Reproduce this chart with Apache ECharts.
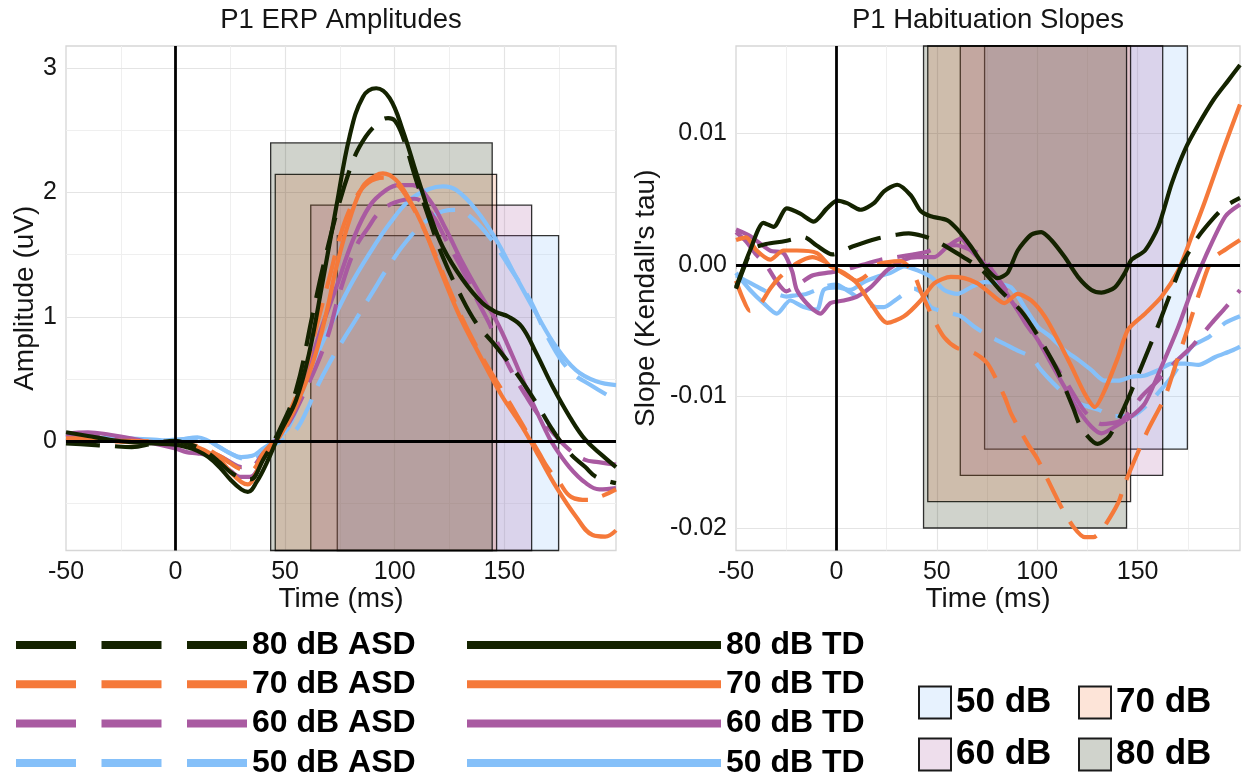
<!DOCTYPE html>
<html><head><meta charset="utf-8">
<script src="https://cdn.jsdelivr.net/npm/echarts@6/dist/echarts.min.js"></script>
<style>html,body{margin:0;padding:0;background:#fff}#chart{width:1248px;height:775px}</style>
</head><body><div id="chart"></div>
<script>
const FONT = '"Liberation Sans", Arial, Helvetica, sans-serif';

// ---------- categories ----------
const levels = ['80 dB', '70 dB', '60 dB', '50 dB'];
const asdNames = ['80 dB ASD', '70 dB ASD', '60 dB ASD', '50 dB ASD'];
const tdNames = ['80 dB TD', '70 dB TD', '60 dB TD', '50 dB TD'];
const levelColors = ['#142300', '#F5793A', '#A95AA1', '#85C0F9'];
const levelFills = ['rgba(20,35,0,0.2)', 'rgba(245,121,58,0.2)', 'rgba(169,90,161,0.2)', 'rgba(133,192,249,0.2)'];

// ---------- axes / ticks ----------
const timeMin = -50, timeMax = 201;
const ampMin = -0.882, ampMax = 3.18;
const slopeMin = -0.02171, slopeMax = 0.01665;
const timeTicks = [-50, 0, 50, 100, 150];
const timeMajorGrid = [0, 50, 100, 150];
const timeMinorGrid = [-25, 25, 75, 125, 175];
const ampTicks = [0, 1, 2, 3];
const ampMinorGrid = [-0.5, 0.5, 1.5, 2.5];
const slopeTicks = [-0.02, -0.01, 0, 0.01];
const slopeMinorGrid = [-0.015, -0.005, 0.005, 0.015];

// ---------- analysis windows (per level: 80,70,60,50) ----------
const windowStart = [43.4, 45.5, 61.7, 73.8];
const windowEnd = [144.5, 146.5, 162.5, 174.8];
const ampWindowTop = [2.40, 2.147, 1.898, 1.653];
const slopeWindowBottom = [-0.020, -0.018, -0.016, -0.014];

// ---------- P1 ERP amplitudes [time ms, uV] ----------
const ampASD80 = [[-50,-0.02],[-40,-0.03],[-30,-0.04],[-20,-0.05],[-10,-0.02],[0,0.0],[5,-0.02],[10,-0.05],[15,-0.1],[20,-0.17],[25,-0.25],[30,-0.3],[34,-0.31],[40,-0.15],[47.5,0.09],[55,0.41],[62.7,1.03],[67.3,1.40],[73.4,1.83],[79.4,2.18],[84,2.37],[90,2.52],[97,2.60],[100,2.58],[103.7,2.45],[109.8,2.10],[115.9,1.78],[122,1.48],[129.6,1.19],[137.2,0.95],[146.3,0.76],[155.4,0.55],[164.5,0.31],[172,0.09],[180,-0.10],[187,-0.21],[192,-0.29],[201,-0.34]];
const ampTD80 = [[-50,0.07],[-40,0.04],[-30,0.01],[-20,-0.01],[-10,-0.02],[0,-0.03],[5,-0.05],[10,-0.08],[15,-0.13],[20,-0.21],[25,-0.31],[30,-0.39],[33,-0.41],[37,-0.33],[41.5,-0.18],[47.5,0.06],[55,0.33],[61,0.71],[67.3,1.30],[73.4,1.89],[79.4,2.45],[85.5,2.77],[91.6,2.84],[97.7,2.76],[103.7,2.50],[109.8,2.16],[115.9,1.83],[122,1.56],[131,1.30],[140,1.11],[146,1.04],[152,1.00],[158,0.92],[164.5,0.71],[172,0.44],[180,0.19],[187,0.01],[195,-0.12],[201,-0.21]];
const ampASD70 = [[-50,0.02],[-40,0.02],[-30,0.0],[-20,-0.01],[-10,0.0],[0,-0.02],[10,-0.04],[20,-0.12],[25,-0.18],[30,-0.23],[34,-0.24],[40,-0.1],[47.5,0.07],[58,0.5],[64,0.9],[70,1.3],[76,1.7],[82,1.95],[88,2.08],[95,2.12],[101,2.07],[107,1.92],[113,1.72],[119,1.48],[125,1.22],[131,0.98],[137,0.77],[143,0.58],[150,0.38],[156,0.2],[161,0.05],[166,-0.1],[170,-0.22],[175,-0.33],[180.5,-0.45],[188,-0.475],[195,-0.44],[201,-0.39]];
const ampTD70 = [[-50,0.0],[-40,0.01],[-30,0.0],[-20,0.0],[-10,-0.01],[0,-0.02],[10,-0.05],[20,-0.15],[25,-0.25],[30,-0.33],[33,-0.35],[37,-0.25],[42,-0.08],[47.5,0.035],[55,0.28],[62.7,0.63],[68.8,1.03],[73.4,1.40],[79.4,1.78],[85.5,2.05],[91.6,2.14],[94.6,2.155],[100.7,2.10],[106.8,1.94],[112.9,1.73],[119,1.46],[125.1,1.19],[131.1,0.95],[137,0.75],[143,0.55],[149,0.36],[155,0.2],[158,0.12],[162,0.0],[166,-0.13],[173.7,-0.37],[182.8,-0.61],[190.3,-0.757],[196,-0.77],[201,-0.72]];
const ampASD60 = [[-50,0.03],[-40,0.05],[-30,0.03],[-20,0.0],[-10,-0.02],[0,-0.03],[10,-0.06],[20,-0.12],[25,-0.17],[30,-0.21],[34,-0.21],[40,-0.1],[50,0.1],[58,0.36],[68.8,0.81],[75,1.2],[82,1.55],[88,1.72],[93,1.84],[100,1.92],[109,1.95],[116,1.85],[124,1.6],[132.6,1.32],[138,1.12],[143,0.95],[148,0.75],[154,0.54],[160,0.36],[166,0.2],[172,0.07],[179,-0.06],[186.6,-0.15],[193,-0.17],[201,-0.19]];
const ampTD60 = [[-50,0.06],[-40,0.07],[-30,0.05],[-20,0.02],[-10,-0.02],[0,-0.06],[5,-0.09],[10,-0.1],[15,-0.12],[20,-0.17],[25,-0.24],[30,-0.29],[34,-0.29],[40,-0.14],[48.9,0.09],[58,0.44],[65.8,0.87],[73.4,1.24],[81,1.62],[88.5,1.89],[96.1,2.02],[102,2.06],[108.2,2.06],[115.9,1.94],[123.5,1.70],[131.1,1.43],[138.7,1.19],[146.3,0.97],[153.9,0.68],[161.6,0.36],[169,0.08],[172,-0.02],[179.7,-0.21],[187.3,-0.34],[193.4,-0.39],[201,-0.38]];
const ampASD50 = [[-50,0.0],[-40,0.01],[-30,0.02],[-20,0.01],[-10,0.0],[0,0.01],[10,0.02],[15,0.0],[20,-0.05],[25,-0.1],[30,-0.14],[35,-0.15],[40,-0.1],[45,-0.03],[50,0.02],[55,0.09],[60,0.25],[65,0.45],[70,0.62],[76,0.8],[82,0.97],[90,1.2],[97,1.4],[105,1.6],[115,1.78],[122,1.85],[128,1.86],[134.2,1.81],[143.3,1.64],[152.4,1.40],[161.6,1.14],[170.6,0.81],[179.7,0.57],[190.3,0.44],[201,0.33]];
const ampTD50 = [[-50,0.02],[-40,0.02],[-30,0.03],[-20,0.02],[-10,0.01],[0,0.0],[5,0.02],[10,0.03],[15,0.0],[20,-0.05],[25,-0.1],[30,-0.13],[35,-0.12],[40,-0.06],[45,0.0],[51.9,0.12],[61,0.55],[70.4,0.92],[79.4,1.24],[88.5,1.51],[97.7,1.75],[106.8,1.94],[115.9,2.03],[122,2.05],[128.1,2.02],[137.2,1.86],[146.3,1.62],[155.4,1.32],[164.5,1.03],[173.6,0.76],[182.7,0.57],[191.9,0.48],[201,0.45]];

// ---------- P1 habituation slopes [time ms, Kendall's tau] ----------
const slopeASD80 = [[-50,-0.0018],[-45,0.0002],[-42,0.0012],[-35,0.0016],[-26,0.0018],[-16,0.0021],[-10,0.0015],[-2,0.0008],[8,0.0014],[20,0.0020],[30,0.0023],[36,0.0024],[43,0.0022],[50,0.0018],[60,0.0009],[72,-0.0003],[82,-0.0020],[92,-0.0035],[100,-0.0053],[110,-0.0080],[118,-0.0109],[122,-0.0124],[130,-0.0136],[136,-0.0130],[144,-0.0106],[152,-0.0077],[160,-0.0047],[166,-0.0023],[172,0.0000],[180,0.0021],[188,0.0036],[194,0.0045],[201,0.0051]];
const slopeTD80 = [[-50,-0.0017],[-43,0.0011],[-36.3,0.0032],[-31.3,0.0029],[-24.7,0.0043],[-18,0.0039],[-11.3,0.0033],[-4.7,0.0043],[0.3,0.0049],[5.3,0.0047],[12,0.0042],[18.7,0.0047],[23.7,0.0056],[30.3,0.0061],[37,0.0053],[42,0.0041],[47,0.0037],[55.3,0.0034],[60.3,0.0027],[67,0.0014],[73.7,-0.0001],[80.3,-0.0010],[85.3,-0.0006],[90.3,0.0011],[97,0.0023],[102,0.0025],[107,0.0019],[113.7,0.0006],[120.3,-0.0009],[127,-0.0019],[132,-0.0021],[138.7,-0.0017],[143.7,-0.0006],[147,0.0004],[153.7,0.0011],[160.3,0.0029],[167,0.0062],[173.7,0.0088],[180,0.0106],[188,0.0126],[195,0.0140],[201,0.0152]];
const slopeASD70 = [[-50,-0.0012],[-47,-0.0024],[-43,-0.0035],[-38,-0.0030],[-33,-0.0018],[-28,-0.0009],[-20,0.0001],[-12,0.0006],[-5,0.0002],[0,-0.0003],[5,-0.0008],[10,-0.0012],[15,-0.0008],[20,0.0000],[25,0.0002],[32,0.0003],[38,-0.0005],[42,-0.0020],[48.7,-0.0042],[53.7,-0.0055],[60,-0.0063],[68.7,-0.0067],[75.3,-0.0075],[83.7,-0.0100],[87,-0.0113],[95.3,-0.0136],[100.3,-0.0148],[108.7,-0.0174],[112,-0.0184],[118,-0.0199],[123.7,-0.0207],[128,-0.0207],[132,-0.0202],[140.3,-0.0181],[143.7,-0.0166],[152,-0.0136],[155.3,-0.0125],[163.7,-0.0100],[168.7,-0.0077],[175.3,-0.0047],[181,-0.0020],[187,0.0004],[194,0.0012],[201,0.0019]];
const slopeTD70 = [[-50,0.0019],[-45,0.0021],[-39.7,0.0011],[-33,0.0004],[-26.3,0.0011],[-19.7,0.0011],[-9.7,0.0009],[-3,-0.0001],[3.7,-0.0006],[10.3,-0.0014],[17,-0.0029],[25.3,-0.0044],[33.7,-0.0039],[42,-0.0027],[48.7,-0.0014],[57,-0.0009],[63.7,-0.0010],[70.3,-0.0014],[77,-0.0022],[83.7,-0.0029],[90.3,-0.0022],[97,-0.0027],[103.7,-0.0039],[110.3,-0.0057],[117,-0.0077],[123.7,-0.0098],[128.7,-0.0108],[133.7,-0.0095],[140.3,-0.0070],[145.3,-0.0049],[153.7,-0.0037],[162,-0.0024],[170.3,-0.0004],[177,0.0022],[183.7,0.0049],[192,0.0085],[201,0.0122]];
const slopeASD60 = [[-50,0.0025],[-45,0.0018],[-40,0.0008],[-35,0.0000],[-30,-0.0012],[-25,-0.0020],[-20,-0.0016],[-12,-0.0008],[-5,-0.0006],[0,-0.0005],[8,-0.0002],[15,0.0001],[22,0.0004],[30,0.0006],[38,0.0008],[45,0.0010],[52,0.0014],[60,0.0015],[66,0.0012],[72,0.0008],[78,-0.0005],[84,-0.0018],[94,-0.0044],[104,-0.0065],[114,-0.0088],[124,-0.0112],[132,-0.0121],[142,-0.0118],[152,-0.0100],[160,-0.0088],[168,-0.0075],[177,-0.0062],[187,-0.0044],[194,-0.0032],[201,-0.0019]];
const slopeTD60 = [[-50,0.0027],[-43,0.0022],[-33,0.0011],[-26.3,0.0009],[-22,-0.0005],[-19.7,-0.0019],[-13,-0.0032],[-8,-0.0037],[-3,-0.0029],[3.7,-0.0027],[10.3,-0.0024],[17,-0.0017],[25.3,-0.0004],[33.7,0.0004],[40.3,0.0006],[48.7,0.0006],[55.3,0.0014],[62,0.0020],[67,0.0011],[73.7,0.0001],[80.3,-0.0011],[87,-0.0027],[93.7,-0.0042],[100.3,-0.0057],[107,-0.0075],[113.7,-0.0093],[120.3,-0.0110],[127,-0.0123],[132,-0.0128],[138.7,-0.0123],[147,-0.0115],[153.7,-0.0105],[162,-0.0077],[170.3,-0.0047],[177,-0.0019],[183.7,0.0006],[193.7,0.0037],[201,0.0046]];
const slopeASD50 = [[-50,-0.0008],[-45,-0.0012],[-40,-0.0016],[-35,-0.0020],[-30,-0.0022],[-25,-0.0024],[-20,-0.0023],[-15,-0.0022],[-10,-0.0019],[-5,-0.0016],[0,-0.0015],[5,-0.0019],[10,-0.0024],[15,-0.0029],[20,-0.0032],[23.7,-0.0032],[30,-0.0026],[38.7,-0.0018],[43,-0.0022],[47,-0.0032],[55,-0.0036],[62,-0.0039],[68.7,-0.0047],[76,-0.0054],[83.7,-0.0060],[90,-0.0065],[97,-0.0070],[102,-0.0080],[108,-0.0090],[113.7,-0.0098],[120.3,-0.0105],[130.3,-0.0110],[138.7,-0.0115],[147,-0.0115],[153.7,-0.0108],[158.7,-0.0100],[167,-0.0085],[177,-0.0062],[185.3,-0.0055],[193.7,-0.0044],[201,-0.0039]];
const slopeTD50 = [[-50,-0.0006],[-43,-0.0019],[-36.3,-0.0029],[-29.7,-0.0037],[-23,-0.0027],[-16.3,-0.0032],[-9.7,-0.0034],[-6.3,-0.0019],[0.3,-0.0017],[7,-0.0019],[13.7,-0.0013],[20.3,-0.0009],[27,-0.0006],[33.7,-0.0001],[40.3,-0.0004],[47,-0.0009],[53.7,-0.0019],[60.3,-0.0022],[67,-0.0017],[73.7,-0.0013],[80.3,-0.0014],[87,-0.0017],[93.7,-0.0032],[100.3,-0.0047],[107,-0.0055],[113.7,-0.0065],[120.3,-0.0072],[127,-0.0080],[133.7,-0.0088],[140.3,-0.0088],[147,-0.0085],[153.7,-0.0084],[160.3,-0.0080],[167,-0.0075],[173.7,-0.0075],[180.3,-0.0076],[188.7,-0.0070],[197,-0.0065],[201,-0.0062]];

const ampASD = [ampASD80, ampASD70, ampASD60, ampASD50];
const ampTD = [ampTD80, ampTD70, ampTD60, ampTD50];
const slopeASD = [slopeASD80, slopeASD70, slopeASD60, slopeASD50];
const slopeTD = [slopeTD80, slopeTD70, slopeTD60, slopeTD50];

// ---------- builders ----------
function gridLineSeries(gi, yMajor, yMinor) {
  const major = {color: '#e4e4e4', width: 1.2, type: 'solid'};
  const minor = {color: '#efefef', width: 1, type: 'solid'};
  const data = [];
  timeMinorGrid.forEach(v => data.push({xAxis: v, lineStyle: minor}));
  yMinor.forEach(v => data.push({yAxis: v, lineStyle: minor}));
  timeMajorGrid.forEach(v => data.push({xAxis: v, lineStyle: major}));
  yMajor.forEach(v => data.push({yAxis: v, lineStyle: major}));
  return {type: 'line', xAxisIndex: gi, yAxisIndex: gi, data: [], silent: true, z: 1,
    markLine: {z: 1, silent: true, symbol: ['none', 'none'], animation: false, label: {show: false},
      emphasis: {disabled: true}, data: data}};
}
function zeroLineSeries(gi) {
  const st = {color: '#000', width: 2.8, type: 'solid'};
  return {type: 'line', xAxisIndex: gi, yAxisIndex: gi, data: [], silent: true, z: 10,
    markLine: {z: 10, silent: true, symbol: ['none', 'none'], animation: false, label: {show: false},
      emphasis: {disabled: true}, data: [{xAxis: 0, lineStyle: st}, {yAxis: 0, lineStyle: st}]}};
}
function windowSeries(gi, i, edgeValue, limit) {
  return {type: 'custom', name: levels[i], xAxisIndex: gi, yAxisIndex: gi, z: 2, silent: true,
    itemStyle: {color: levelFills[i]},
    encode: {x: [0, 1], y: [2, 3]},
    data: [[windowStart[i], windowEnd[i], edgeValue, limit]],
    renderItem: function (params, api) {
      const a = api.coord([api.value(0), api.value(2)]);
      const b = api.coord([api.value(1), api.value(3)]);
      return {type: 'rect',
        shape: {x: Math.min(a[0], b[0]), y: Math.min(a[1], b[1]), width: Math.abs(b[0] - a[0]), height: Math.abs(b[1] - a[1])},
        style: {fill: levelFills[i], stroke: 'rgba(0,0,0,0.8)', lineWidth: 1.3}};
    }};
}
function curveSeries(gi, name, data, color, dashed) {
  return {type: 'line', name: name, xAxisIndex: gi, yAxisIndex: gi, data: data, z: 3,
    symbol: 'none', showSymbol: false, smooth: gi === 0 ? 0.4 : 0.25, silent: true,
    emphasis: {disabled: true}, itemStyle: {color: color},
    lineStyle: {color: color, width: 4.2, type: dashed ? [34, 15] : 'solid', dashOffset: 0, cap: 'butt', join: 'round'}};
}

const series = [];
series.push(gridLineSeries(0, ampTicks, ampMinorGrid));
series.push(gridLineSeries(1, slopeTicks, slopeMinorGrid));
// windows: 50 dB at the bottom, 80 dB on top
for (let i = 3; i >= 0; i--) {
  series.push(windowSeries(0, i, ampWindowTop[i], ampMin));
  series.push(windowSeries(1, i, slopeWindowBottom[i], slopeMax));
}
for (let i = 3; i >= 0; i--) {
  series.push(curveSeries(0, asdNames[i], ampASD[i], levelColors[i], true));
  series.push(curveSeries(0, tdNames[i], ampTD[i], levelColors[i], false));
  series.push(curveSeries(1, asdNames[i], slopeASD[i], levelColors[i], true));
  series.push(curveSeries(1, tdNames[i], slopeTD[i], levelColors[i], false));
}
series.push(zeroLineSeries(0));
series.push(zeroLineSeries(1));

const tickLabel = {fontSize: 25, color: '#151515', fontFamily: FONT, margin: 9};
const nameStyle = {fontSize: 28, color: '#151515', fontFamily: FONT};
function xAxis(gi) {
  return {type: 'value', gridIndex: gi, min: timeMin, max: timeMax,
    axisLine: {show: false},
    axisTick: {show: true, length: 4, lineStyle: {color: '#bdbdbd', width: 1}, customValues: timeTicks},
    axisLabel: Object.assign({customValues: timeTicks}, tickLabel),
    splitLine: {show: false}, minorSplitLine: {show: false},
    name: 'Time (ms)', nameLocation: 'middle', nameGap: 35, nameTextStyle: nameStyle, nameMoveOverlap: false};
}
function yAxis(gi, min, max, ticks, name, gap, fmt) {
  return {type: 'value', gridIndex: gi, min: min, max: max,
    axisLine: {show: false},
    axisTick: {show: true, length: 4, lineStyle: {color: '#bdbdbd', width: 1}, customValues: ticks},
    axisLabel: Object.assign({customValues: ticks, formatter: fmt}, tickLabel),
    splitLine: {show: false}, minorSplitLine: {show: false},
    name: name, nameLocation: 'middle', nameGap: gap, nameTextStyle: nameStyle, nameMoveOverlap: false};
}

const legendText = {fontSize: 32, fontWeight: 'bold', color: '#000', fontFamily: FONT, lineHeight: 30};
const boxText = {fontSize: 35, fontWeight: 'bold', color: '#000', fontFamily: FONT, lineHeight: 32};

const option = {
  animation: false,
  backgroundColor: '#fff',
  title: [
    {text: 'P1 ERP Amplitudes', left: 341, top: 6, textAlign: 'center', padding: 0,
      textStyle: {fontSize: 27.5, fontWeight: 'normal', color: '#151515', fontFamily: FONT}},
    {text: 'P1 Habituation Slopes', left: 988, top: 6, textAlign: 'center', padding: 0,
      textStyle: {fontSize: 27.5, fontWeight: 'normal', color: '#151515', fontFamily: FONT}}
  ],
  grid: [
    {left: 66, top: 46, width: 550, height: 504.5, show: true, borderColor: '#d6d6d6', borderWidth: 1.3, backgroundColor: '#fff', containLabel: false, outerBoundsMode: 'none'},
    {left: 736, top: 46, width: 504, height: 504.5, show: true, borderColor: '#d6d6d6', borderWidth: 1.3, backgroundColor: '#fff', containLabel: false, outerBoundsMode: 'none'}
  ],
  xAxis: [xAxis(0), xAxis(1)],
  yAxis: [
    yAxis(0, ampMin, ampMax, ampTicks, 'Amplitude (uV)', 27, v => String(v)),
    yAxis(1, slopeMin, slopeMax, slopeTicks, "Slope (Kendall's tau)", 76, v => v.toFixed(2))
  ],
  legend: [
    {data: asdNames, orient: 'vertical', left: 12, top: 629, height: 200, padding: 0, itemWidth: 231, itemHeight: 30, itemGap: 7.3,
      selectedMode: false, lineStyle: {width: 8, type: [60, 25.5], dashOffset: 0, cap: 'butt'}, itemStyle: {opacity: 0}, textStyle: legendText},
    {data: tdNames, orient: 'vertical', left: 463, top: 629, height: 200, padding: 0, itemWidth: 254, itemHeight: 30, itemGap: 7.3,
      selectedMode: false, lineStyle: {width: 8, type: 'solid', cap: 'butt'}, itemStyle: {opacity: 0}, textStyle: legendText},
    {data: ['50 dB', '60 dB'], orient: 'vertical', left: 918, top: 685, height: 150, padding: 0, itemWidth: 32, itemHeight: 32, itemGap: 17,
      selectedMode: false, icon: 'rect', itemStyle: {borderColor: '#1a1a1a', borderWidth: 2}, textStyle: boxText},
    {data: ['70 dB', '80 dB'], orient: 'vertical', left: 1078, top: 685, height: 150, padding: 0, itemWidth: 32, itemHeight: 32, itemGap: 17,
      selectedMode: false, icon: 'rect', itemStyle: {borderColor: '#1a1a1a', borderWidth: 2}, textStyle: boxText}
  ],
  series: series
};

const chart = echarts.init(document.getElementById('chart'), null, {renderer: 'canvas'});
chart.setOption(option);
</script>
</body></html>
